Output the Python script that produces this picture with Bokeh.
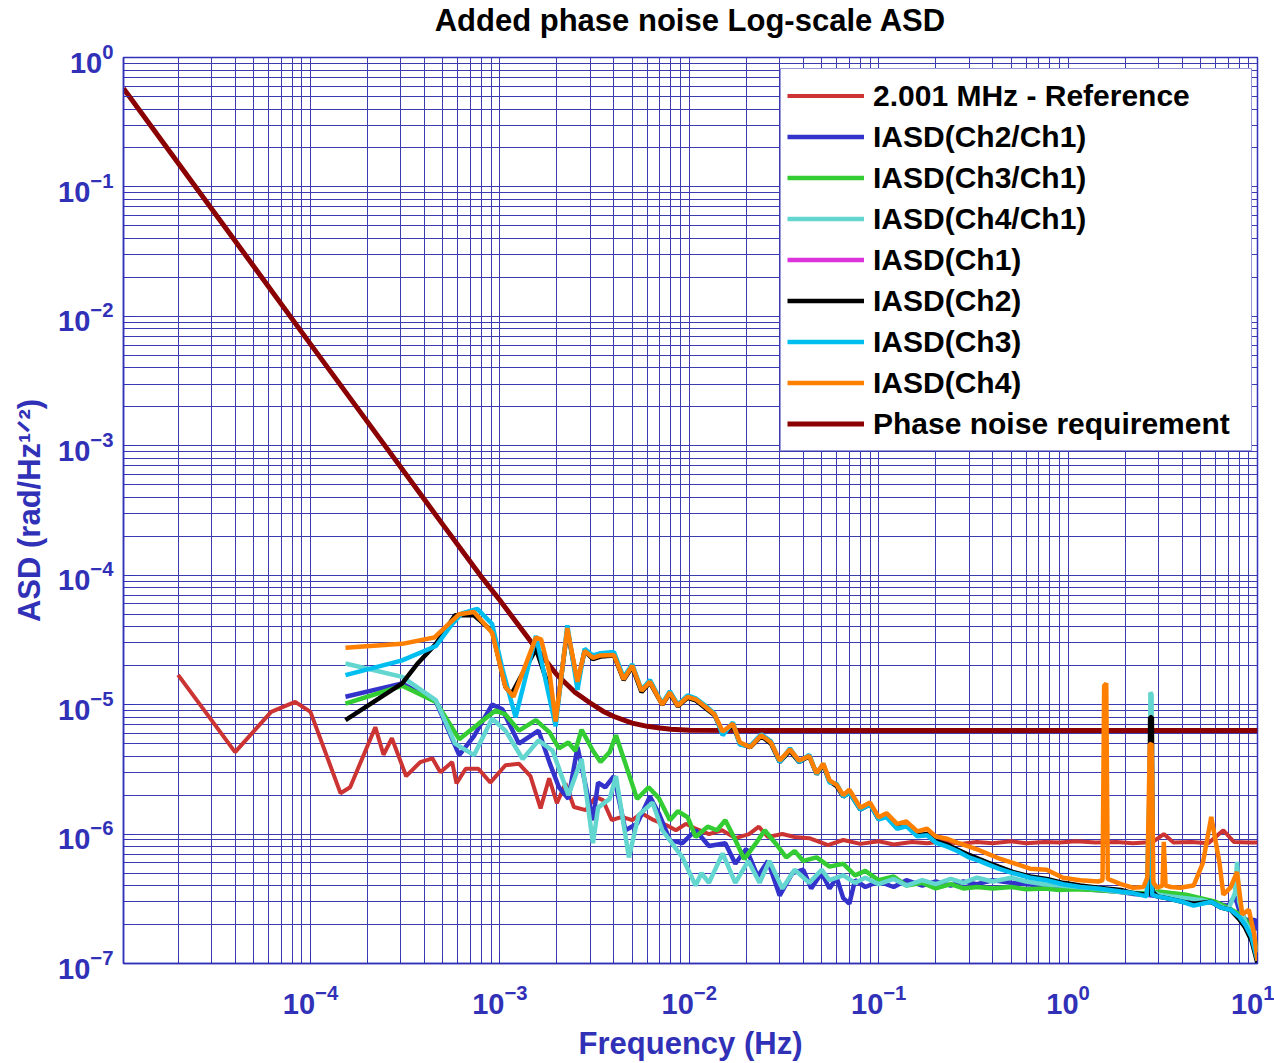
from bokeh.plotting import figure
from bokeh.models import FixedTicker, Legend, LegendItem, Label
from bokeh.embed import file_html
from bokeh.resources import INLINE

# ---------------- data ----------------
ref_f = [2.0e-5, 4.0e-5, 6.2e-5, 8.3e-5, 1.0e-4, 1.44e-4, 1.62e-4, 2.2e-4, 2.43e-4, 2.69e-4,
         3.2e-4, 3.8e-4, 4.4e-4, 4.85e-4, 5.6e-4, 5.9e-4, 6.6e-4, 7.7e-4, 8.9e-4, 1.07e-3,
         1.26e-3, 1.45e-3, 1.64e-3, 1.82e-3, 2.0e-3, 2.22e-3, 2.46e-3, 2.84e-3, 3.2e-3, 3.5e-3,
         3.9e-3, 4.4e-3, 5.0e-3, 5.6e-3, 6.5e-3, 7.6e-3, 8.5e-3, 9.6e-3, 1.08e-2, 1.27e-2,
         1.49e-2, 1.75e-2, 2.07e-2, 2.33e-2, 2.6e-2, 3.1e-2, 3.6e-2, 4.3e-2, 5.4e-2, 6.5e-2,
         8.0e-2, 0.1, 0.12, 0.15, 0.18, 0.22, 0.27, 0.33, 0.4, 0.5,
         0.6, 0.75, 0.9, 1.1, 1.4, 1.8, 2.2, 2.8, 3.2, 3.6,
         4.5, 5.5, 6.6, 7.5, 9.0, 10.0]
ref_v = [1.7e-5, 4.3e-6, 8.8e-6, 1.05e-5, 8.8e-6, 2.07e-6, 2.3e-6, 6.7e-6, 4.1e-6, 5.5e-6,
         2.8e-6, 3.6e-6, 3.85e-6, 3.0e-6, 3.6e-6, 2.46e-6, 3.2e-6, 3.2e-6, 2.5e-6, 3.4e-6,
         3.5e-6, 2.8e-6, 1.58e-6, 2.7e-6, 1.73e-6, 2.46e-6, 1.62e-6, 1.53e-6, 1.94e-6, 1.83e-6,
         1.28e-6, 1.36e-6, 1.28e-6, 1.45e-6, 1.28e-6, 1.17e-6, 1.07e-6, 1.2e-6, 1.1e-6, 1.0e-6,
         1.07e-6, 9.3e-7, 1.0e-6, 1.14e-6, 9.5e-7, 1.0e-6, 9.5e-7, 9.3e-7, 8.2e-7, 9.0e-7,
         8.4e-7, 8.8e-7, 8.3e-7, 8.7e-7, 8.5e-7, 8.8e-7, 8.4e-7, 8.7e-7, 8.5e-7, 8.8e-7,
         8.5e-7, 8.7e-7, 8.6e-7, 8.8e-7, 8.6e-7, 8.7e-7, 8.5e-7, 8.7e-7, 1.0e-6, 8.6e-7,
         8.7e-7, 8.5e-7, 1.07e-6, 8.7e-7, 8.6e-7, 8.6e-7]

req_f = [1.03e-5, 2e-5, 5e-5, 1e-4, 2e-4, 5e-4, 8e-4, 1e-3, 1.5e-3, 2e-3,
         2.5e-3, 3e-3, 3.5e-3, 4e-3, 5e-3, 6e-3, 7e-3, 8e-3, 1e-2, 2e-2, 10.0]
req_v = [0.577, 0.153, 0.0245, 6.1e-3, 1.53e-3, 2.46e-4, 9.7e-5, 6.4e-5, 2.9e-5, 1.7e-5,
         1.24e-5, 1.03e-5, 8.9e-6, 8.1e-6, 7.2e-6, 6.8e-6, 6.6e-6, 6.45e-6, 6.35e-6, 6.3e-6, 6.3e-6]

ch2ch1_f = [1.53e-4, 3.05e-4, 4.6e-4, 6.1e-4, 7.3e-4, 9.1e-4, 1.03e-3, 1.26e-3, 1.6e-3, 1.83e-3,
            2.05e-3, 2.3e-3, 2.57e-3, 3.1e-3, 3.3e-3, 3.6e-3, 4.0e-3, 4.6e-3, 5.3e-3, 6.2e-3,
            6.9e-3, 7.9e-3, 9.2e-3, 1.08e-2, 1.27e-2, 1.55e-2, 1.75e-2, 2.0e-2, 2.3e-2, 2.6e-2,
            3.0e-2, 3.5e-2, 4.0e-2, 4.4e-2, 5.0e-2, 5.5e-2, 0.06, 0.065, 0.07, 0.075,
            0.085, 0.1, 0.12, 0.14, 0.17, 0.2, 0.24, 0.28, 0.33, 0.4,
            0.5, 0.6, 0.75, 0.9, 1.1, 1.4, 1.8, 2.2, 2.6, 3.0,
            3.5, 4.2, 5.0, 6.0, 7.0, 7.6, 8.0, 8.6, 9.3, 9.7, 10.0]
ch2ch1_v = [1.15e-5, 1.46e-5, 1.05e-5, 4.07e-6, 5.7e-6, 1.0e-5, 9.2e-6, 5.0e-6, 6.3e-6, 3.55e-6,
            2.3e-6, 1.87e-6, 4.7e-6, 1.28e-6, 2.5e-6, 2.3e-6, 2.8e-6, 1.07e-6, 1.2e-6, 1.95e-6,
            1.45e-6, 9.0e-7, 8.5e-7, 1.07e-6, 8.1e-7, 8.5e-7, 5.9e-7, 7.7e-7, 4.7e-7, 6.2e-7,
            3.35e-7, 5.0e-7, 5.3e-7, 3.8e-7, 5.0e-7, 3.8e-7, 4.6e-7, 3.2e-7, 2.9e-7, 4.4e-7,
            3.9e-7, 4.3e-7, 3.9e-7, 4.4e-7, 4.0e-7, 4.3e-7, 4.0e-7, 4.3e-7, 4.1e-7, 4.4e-7,
            4.2e-7, 4.1e-7, 4.0e-7, 3.9e-7, 3.8e-7, 3.7e-7, 3.6e-7, 3.45e-7, 3.4e-7, 3.3e-7,
            3.3e-7, 3.2e-7, 3.1e-7, 2.9e-7, 2.8e-7, 3.3e-7, 2.6e-7, 2.2e-7, 2.1e-7, 2.2e-7, 1.8e-7]

ch3ch1_f = [1.53e-4, 3.05e-4, 4.6e-4, 6.1e-4, 7.7e-4, 9.5e-4, 1.07e-3, 1.26e-3, 1.55e-3, 1.83e-3,
            2.05e-3, 2.3e-3, 2.5e-3, 2.7e-3, 3.1e-3, 3.4e-3, 3.8e-3, 4.1e-3, 4.6e-3, 5.3e-3,
            6.1e-3, 6.9e-3, 7.9e-3, 8.7e-3, 9.8e-3, 1.08e-2, 1.25e-2, 1.4e-2, 1.55e-2, 1.75e-2,
            1.95e-2, 2.25e-2, 2.5e-2, 2.85e-2, 3.25e-2, 3.6e-2, 4.0e-2, 4.7e-2, 5.5e-2, 0.065,
            0.075, 0.085, 0.1, 0.12, 0.14, 0.17, 0.2, 0.24, 0.28, 0.33,
            0.4, 0.5, 0.6, 0.75, 0.9, 1.1, 1.4, 1.8, 2.2, 2.6,
            3.0, 3.5, 4.2, 5.0, 6.0, 7.0, 8.0, 8.6, 9.3, 10.0]
ch3ch1_v = [1.02e-5, 1.4e-5, 1.05e-5, 5.4e-6, 7.1e-6, 9.0e-6, 8.4e-6, 6.3e-6, 7.6e-6, 6.1e-6,
            4.6e-6, 5.1e-6, 4.4e-6, 6.4e-6, 4.4e-6, 3.6e-6, 4.3e-6, 5.8e-6, 3.5e-6, 1.87e-6,
            2.3e-6, 1.9e-6, 1.28e-6, 1.5e-6, 1.35e-6, 9.5e-7, 1.14e-6, 1.07e-6, 1.28e-6, 9.0e-7,
            6.4e-7, 8.5e-7, 1.07e-6, 8.5e-7, 6.6e-7, 7.4e-7, 6.2e-7, 6.6e-7, 5.6e-7, 5.9e-7,
            4.8e-7, 5.2e-7, 4.4e-7, 4.7e-7, 4.0e-7, 4.2e-7, 3.8e-7, 4.1e-7, 3.8e-7, 3.9e-7,
            3.8e-7, 3.9e-7, 3.75e-7, 3.8e-7, 3.7e-7, 3.75e-7, 3.7e-7, 3.6e-7, 3.5e-7, 3.5e-7,
            3.6e-7, 3.5e-7, 3.4e-7, 3.2e-7, 3.0e-7, 2.7e-7, 2.4e-7, 2.2e-7, 1.8e-7, 1.3e-7]

ch4ch1_f = [1.53e-4, 3.05e-4, 4.6e-4, 5.8e-4, 7.3e-4, 9.1e-4, 1.07e-3, 1.32e-3, 1.6e-3, 1.9e-3,
            2.3e-3, 2.7e-3, 3.1e-3, 3.3e-3, 3.8e-3, 4.1e-3, 4.8e-3, 5.4e-3, 6.4e-3, 7.2e-3,
            8.1e-3, 9.2e-3, 1.08e-2, 1.16e-2, 1.27e-2, 1.5e-2, 1.75e-2, 2.05e-2, 2.35e-2, 2.65e-2,
            3.1e-2, 3.6e-2, 4.3e-2, 5.0e-2, 5.5e-2, 0.065, 0.075, 0.085, 0.1, 0.12,
            0.14, 0.17, 0.2, 0.24, 0.28, 0.33, 0.4, 0.5, 0.6, 0.75,
            0.9, 1.1, 1.4, 1.8, 2.2, 2.6, 2.69, 2.72, 2.76, 2.79,
            3.0, 3.5, 4.2, 5.0, 6.0, 7.0, 7.6, 7.8, 8.0, 8.6, 9.3, 10.0]
ch4ch1_v = [2.08e-5, 1.64e-5, 1.08e-5, 5.0e-6, 4.07e-6, 7.8e-6, 6.3e-6, 3.8e-6, 5.3e-6, 4.4e-6,
            2.0e-6, 3.8e-6, 8.5e-7, 1.6e-6, 1.87e-6, 2.8e-6, 6.6e-7, 1.4e-6, 1.75e-6, 1.07e-6,
            8.5e-7, 6.6e-7, 4.0e-7, 5.0e-7, 4.2e-7, 7.1e-7, 4.2e-7, 6.2e-7, 4.2e-7, 6.2e-7,
            3.8e-7, 5.3e-7, 4.2e-7, 5.3e-7, 4.4e-7, 4.8e-7, 4.2e-7, 4.6e-7, 4.1e-7, 4.5e-7,
            4.0e-7, 4.4e-7, 4.1e-7, 4.5e-7, 4.2e-7, 4.6e-7, 4.3e-7, 4.6e-7, 4.3e-7, 4.1e-7,
            4.0e-7, 3.9e-7, 3.8e-7, 3.6e-7, 3.5e-7, 3.4e-7, 3.5e-7, 1.24e-5, 1.2e-5, 3.6e-7,
            3.4e-7, 3.3e-7, 3.2e-7, 3.1e-7, 2.9e-7, 2.6e-7, 3.5e-7, 6.1e-7, 3.0e-7, 2.1e-7, 1.7e-7, 1.2e-7]

# IASD(Ch1) is listed in the legend but shows no visible trace
ch1_f = [1e-3]
ch1_v = [float("nan")]

ch2_f = [1.53e-4, 3.05e-4, 3.7e-4, 4.6e-4, 5.8e-4, 7.3e-4, 9.1e-4, 1.07e-3, 1.15e-3, 1.55e-3,
         1.75e-3, 1.97e-3, 2.27e-3, 2.57e-3, 2.8e-3, 3.1e-3, 3.4e-3, 4.0e-3, 4.5e-3, 5.0e-3,
         5.6e-3, 6.2e-3, 7.2e-3, 7.9e-3, 8.7e-3, 9.8e-3, 1.08e-2, 1.22e-2, 1.36e-2, 1.5e-2,
         1.7e-2, 1.85e-2, 2.1e-2, 2.4e-2, 2.7e-2, 3.0e-2, 3.4e-2, 3.8e-2, 4.3e-2, 4.7e-2,
         5.1e-2, 5.5e-2, 0.06, 0.065, 0.07, 0.08, 0.09, 0.1, 0.11, 0.125,
         0.14, 0.16, 0.18, 0.2, 0.23, 0.26, 0.3, 0.34, 0.38, 0.43,
         0.51, 0.63, 0.77, 0.94, 1.16, 1.44, 1.9, 2.2, 2.6, 2.69,
         2.71, 2.77, 2.79, 2.95, 3.3, 4.0, 4.6, 5.7, 6.4, 7.2, 8.0, 8.6, 9.3, 10.0]
ch2_v = [7.6e-6, 1.46e-5, 2.1e-5, 2.95e-5, 4.9e-5, 4.9e-5, 3.7e-5, 1.37e-5, 1.2e-5, 2.7e-5,
         1.6e-5, 7.6e-6, 3.76e-5, 1.46e-5, 2.6e-5, 2.25e-5, 2.35e-5, 2.4e-5, 1.55e-5, 1.95e-5,
         1.25e-5, 1.48e-5, 1.0e-5, 1.22e-5, 9.7e-6, 1.13e-5, 1.08e-5, 9.4e-6, 8.3e-6, 6.0e-6,
         7.0e-6, 5.0e-6, 4.7e-6, 5.7e-6, 5.0e-6, 3.6e-6, 4.4e-6, 3.6e-6, 4.0e-6, 2.9e-6,
         3.4e-6, 2.55e-6, 2.35e-6, 1.95e-6, 2.1e-6, 1.55e-6, 1.7e-6, 1.3e-6, 1.4e-6, 1.12e-6,
         1.18e-6, 9.8e-7, 1.0e-6, 8.8e-7, 8.3e-7, 7.6e-7, 6.9e-7, 6.4e-7, 6.0e-7, 5.6e-7,
         5.1e-7, 4.7e-7, 4.5e-7, 4.2e-7, 4.0e-7, 3.85e-7, 3.7e-7, 3.5e-7, 3.4e-7, 3.5e-7,
         8.0e-6, 8.0e-6, 3.6e-7, 3.3e-7, 3.2e-7, 3.0e-7, 2.9e-7, 3.0e-7, 2.7e-7, 2.6e-7, 2.2e-7, 1.9e-7, 1.5e-7, 1.0e-7]

ch3_f = [1.53e-4, 3.05e-4, 4.6e-4, 5.6e-4, 6.3e-4, 7.6e-4, 9.1e-4, 1.03e-3, 1.21e-3, 1.55e-3,
         1.97e-3, 2.27e-3, 2.57e-3, 2.8e-3, 3.1e-3, 3.4e-3, 4.0e-3, 4.5e-3, 5.0e-3, 5.6e-3,
         6.2e-3, 7.2e-3, 7.9e-3, 8.7e-3, 9.8e-3, 1.08e-2, 1.22e-2, 1.36e-2, 1.5e-2, 1.7e-2,
         1.85e-2, 2.1e-2, 2.4e-2, 2.7e-2, 3.0e-2, 3.4e-2, 3.8e-2, 4.3e-2, 4.7e-2, 5.1e-2,
         5.5e-2, 0.06, 0.065, 0.07, 0.08, 0.09, 0.1, 0.11, 0.125, 0.14,
         0.16, 0.18, 0.2, 0.23, 0.26, 0.3, 0.34, 0.38, 0.43, 0.51,
         0.63, 0.77, 0.94, 1.16, 1.44, 1.9, 2.2, 2.6, 2.72, 2.78,
         2.95, 3.3, 4.0, 4.6, 5.7, 6.4, 7.2, 8.0, 8.6, 9.3, 10.0]
ch3_v = [1.69e-5, 2.2e-5, 2.84e-5, 4.2e-5, 5.06e-5, 5.5e-5, 4.2e-5, 1.9e-5, 8.0e-6, 3.4e-5,
         6.8e-6, 4.1e-5, 1.3e-5, 2.7e-5, 2.4e-5, 2.5e-5, 2.55e-5, 1.62e-5, 2.05e-5, 1.3e-5,
         1.55e-5, 1.02e-5, 1.27e-5, 1.0e-5, 1.18e-5, 1.12e-5, 9.8e-6, 8.5e-6, 5.8e-6, 7.3e-6,
         4.9e-6, 4.8e-6, 5.9e-6, 5.2e-6, 3.6e-6, 4.6e-6, 3.6e-6, 4.1e-6, 2.9e-6, 3.5e-6,
         2.5e-6, 2.45e-6, 1.95e-6, 2.1e-6, 1.55e-6, 1.7e-6, 1.3e-6, 1.35e-6, 1.1e-6, 1.15e-6,
         9.6e-7, 9.8e-7, 8.6e-7, 8.0e-7, 7.4e-7, 6.6e-7, 6.2e-7, 5.8e-7, 5.4e-7, 5.0e-7,
         4.6e-7, 4.4e-7, 4.1e-7, 3.9e-7, 3.8e-7, 3.6e-7, 3.5e-7, 3.3e-7, 4.0e-6, 3.4e-7,
         3.3e-7, 3.2e-7, 3.0e-7, 2.8e-7, 3.0e-7, 2.7e-7, 2.6e-7, 2.3e-7, 2.0e-7, 1.6e-7, 1.05e-7]

ch4_f = [1.53e-4, 3.05e-4, 4.5e-4, 6.1e-4, 7.3e-4, 9.1e-4, 1.07e-3, 1.18e-3, 1.55e-3, 1.65e-3,
         1.83e-3, 1.97e-3, 2.27e-3, 2.57e-3, 2.8e-3, 3.1e-3, 3.4e-3, 4.0e-3, 4.5e-3, 5.0e-3,
         5.6e-3, 6.2e-3, 7.2e-3, 7.9e-3, 8.7e-3, 9.8e-3, 1.08e-2, 1.22e-2, 1.36e-2, 1.5e-2,
         1.7e-2, 1.85e-2, 2.1e-2, 2.4e-2, 2.7e-2, 3.0e-2, 3.4e-2, 3.8e-2, 4.3e-2, 4.7e-2,
         5.1e-2, 5.5e-2, 0.06, 0.065, 0.07, 0.08, 0.09, 0.1, 0.11, 0.125,
         0.14, 0.16, 0.18, 0.2, 0.23, 0.26, 0.3, 0.34, 0.38, 0.43,
         0.51, 0.63, 0.77, 0.94, 1.16, 1.44, 1.52, 1.55, 1.59, 1.62,
         1.9, 2.2, 2.5, 2.62, 2.7, 2.76, 2.82, 2.95, 3.15, 3.2,
         3.27, 3.5, 3.9, 4.6, 5.15, 5.7, 6.3, 6.6, 7.2, 7.8,
         8.3, 9.0, 9.6, 10.0]
ch4_v = [2.75e-5, 2.95e-5, 3.3e-5, 5.0e-5, 5.2e-5, 3.6e-5, 1.37e-5, 1.15e-5, 3.3e-5, 3.2e-5,
         1.75e-5, 7.4e-6, 3.9e-5, 1.5e-5, 2.6e-5, 2.3e-5, 2.4e-5, 2.42e-5, 1.57e-5, 2.0e-5,
         1.28e-5, 1.5e-5, 1.0e-5, 1.24e-5, 9.8e-6, 1.15e-5, 1.1e-5, 9.6e-6, 8.4e-6, 6.2e-6,
         7.1e-6, 5.1e-6, 4.7e-6, 5.8e-6, 5.1e-6, 3.7e-6, 4.5e-6, 3.7e-6, 4.0e-6, 2.95e-6,
         3.5e-6, 2.6e-6, 2.4e-6, 2.0e-6, 2.2e-6, 1.6e-6, 1.75e-6, 1.35e-6, 1.45e-6, 1.2e-6,
         1.25e-6, 1.05e-6, 1.1e-6, 9.6e-7, 9.2e-7, 8.6e-7, 8.0e-7, 7.5e-7, 7.0e-7, 6.5e-7,
         6.0e-7, 5.4e-7, 5.3e-7, 4.6e-7, 4.4e-7, 4.3e-7, 4.4e-7, 1.4e-5, 1.46e-5, 4.5e-7,
         4.1e-7, 3.85e-7, 3.9e-7, 4.6e-7, 4.9e-6, 5.0e-6, 4.2e-7, 3.85e-7, 4.0e-7, 8.7e-7,
         4.0e-7, 3.9e-7, 3.85e-7, 4.0e-7, 6.0e-7, 1.36e-6, 6.0e-7, 3.4e-7, 3.85e-7, 5.1e-7,
         2.4e-7, 2.6e-7, 1.7e-7, 1.05e-7]

x_major = [1e-4, 1e-3, 1e-2, 1e-1, 1.0, 10.0]
y_major = [1e-7, 1e-6, 1e-5, 1e-4, 1e-3, 1e-2, 1e-1, 1.0]

# ---------------- styling ----------------
BLUE = "#3131B8"
GRID = "#3C3CB0"
FONT = "Liberation Sans"

x_minor = [m * 10.0 ** e for e in range(-5, 1) for m in range(2, 10)]
y_minor = [m * 10.0 ** e for e in range(-7, 0) for m in range(2, 10)]

p = figure(width=1274, height=1063, x_axis_type="log", y_axis_type="log",
           x_range=(1.03e-5, 10.0), y_range=(1e-7, 1.0),
           output_backend="svg", toolbar_location=None,
           min_border_left=123, min_border_right=17, min_border_top=57, min_border_bottom=100)

# chart title, placed in the panel above the plot frame
p.add_layout(Label(x=567, y=37, x_units="screen", y_units="screen",
                   text="Added phase noise Log-scale ASD", text_align="center",
                   text_baseline="alphabetic", text_font=FONT, text_font_size="31px",
                   text_font_style="bold", text_color="black"), "above")

xt = FixedTicker(ticks=x_major, minor_ticks=x_minor)
yt = FixedTicker(ticks=y_major, minor_ticks=y_minor)
p.xaxis.ticker = xt
p.yaxis.ticker = yt
p.xgrid.ticker = xt
p.ygrid.ticker = yt

for g in (p.xgrid, p.ygrid):
    g.grid_line_color = GRID
    g.grid_line_width = 1
    g.grid_line_alpha = 1
    g.minor_grid_line_color = GRID
    g.minor_grid_line_width = 1
    g.minor_grid_line_alpha = 1

for ax in (p.xaxis[0], p.yaxis[0]):
    ax.axis_line_color = BLUE
    ax.axis_line_width = 1.5
    ax.major_tick_line_color = BLUE
    ax.major_tick_in = 11
    ax.major_tick_out = 0
    ax.minor_tick_line_color = BLUE
    ax.minor_tick_in = 6
    ax.minor_tick_out = 0
    ax.major_label_text_font = FONT
    ax.major_label_text_font_size = "29px"
    ax.major_label_text_font_style = "bold"
    ax.major_label_text_color = BLUE
    ax.axis_label_text_font = FONT
    ax.axis_label_text_font_size = "31px"
    ax.axis_label_text_font_style = "bold"
    ax.axis_label_text_color = BLUE

p.xaxis.major_label_standoff = 20
p.yaxis.major_label_standoff = 10
p.xaxis.axis_label = "Frequency (Hz)"
p.xaxis.axis_label_standoff = 9
p.yaxis.axis_label = "ASD (rad/Hz\u00b9\u141f\u00b2)"
p.yaxis.axis_label_standoff = 8

p.outline_line_color = BLUE
p.outline_line_width = 1.5
p.background_fill_color = "white"
p.border_fill_color = "white"

# ---------------- series ----------------
r_req = p.line(req_f, req_v, line_color="#8B0000", line_width=5)
r_ref = p.line(ref_f, ref_v, line_color="#CC3333", line_width=4)
r_b = p.line(ch2ch1_f, ch2ch1_v, line_color="#3333CC", line_width=4.5)
r_g = p.line(ch3ch1_f, ch3ch1_v, line_color="#33CC33", line_width=4.5)
r_t = p.line(ch4ch1_f, ch4ch1_v, line_color="#62D6CF", line_width=4.5)
r_m = p.line(ch1_f, ch1_v, line_color="#DD33DD", line_width=4.5)
r_k = p.line(ch2_f, ch2_v, line_color="black", line_width=4.5)
r_c = p.line(ch3_f, ch3_v, line_color="#00BFF0", line_width=4.5)
r_o = p.line(ch4_f, ch4_v, line_color="#FF8000", line_width=4.5)

legend = Legend(items=[
    LegendItem(label="2.001 MHz - Reference", renderers=[r_ref]),
    LegendItem(label="IASD(Ch2/Ch1)", renderers=[r_b]),
    LegendItem(label="IASD(Ch3/Ch1)", renderers=[r_g]),
    LegendItem(label="IASD(Ch4/Ch1)", renderers=[r_t]),
    LegendItem(label="IASD(Ch1)", renderers=[r_m]),
    LegendItem(label="IASD(Ch2)", renderers=[r_k]),
    LegendItem(label="IASD(Ch3)", renderers=[r_c]),
    LegendItem(label="IASD(Ch4)", renderers=[r_o]),
    LegendItem(label="Phase noise requirement", renderers=[r_req]),
], location=(657, 512))
legend.label_text_font = FONT
legend.label_text_font_size = "30px"
legend.label_text_font_style = "bold"
legend.label_text_color = "black"
legend.border_line_color = BLUE
legend.border_line_width = 1.5
legend.background_fill_color = "white"
legend.background_fill_alpha = 1
legend.padding = 6
legend.spacing = 0
legend.margin = 0
legend.label_height = 41
legend.glyph_height = 41
legend.glyph_width = 77
legend.label_standoff = 9
legend.label_width = 372
p.add_layout(legend)

open("out.html", "w").write(file_html(p, INLINE))
